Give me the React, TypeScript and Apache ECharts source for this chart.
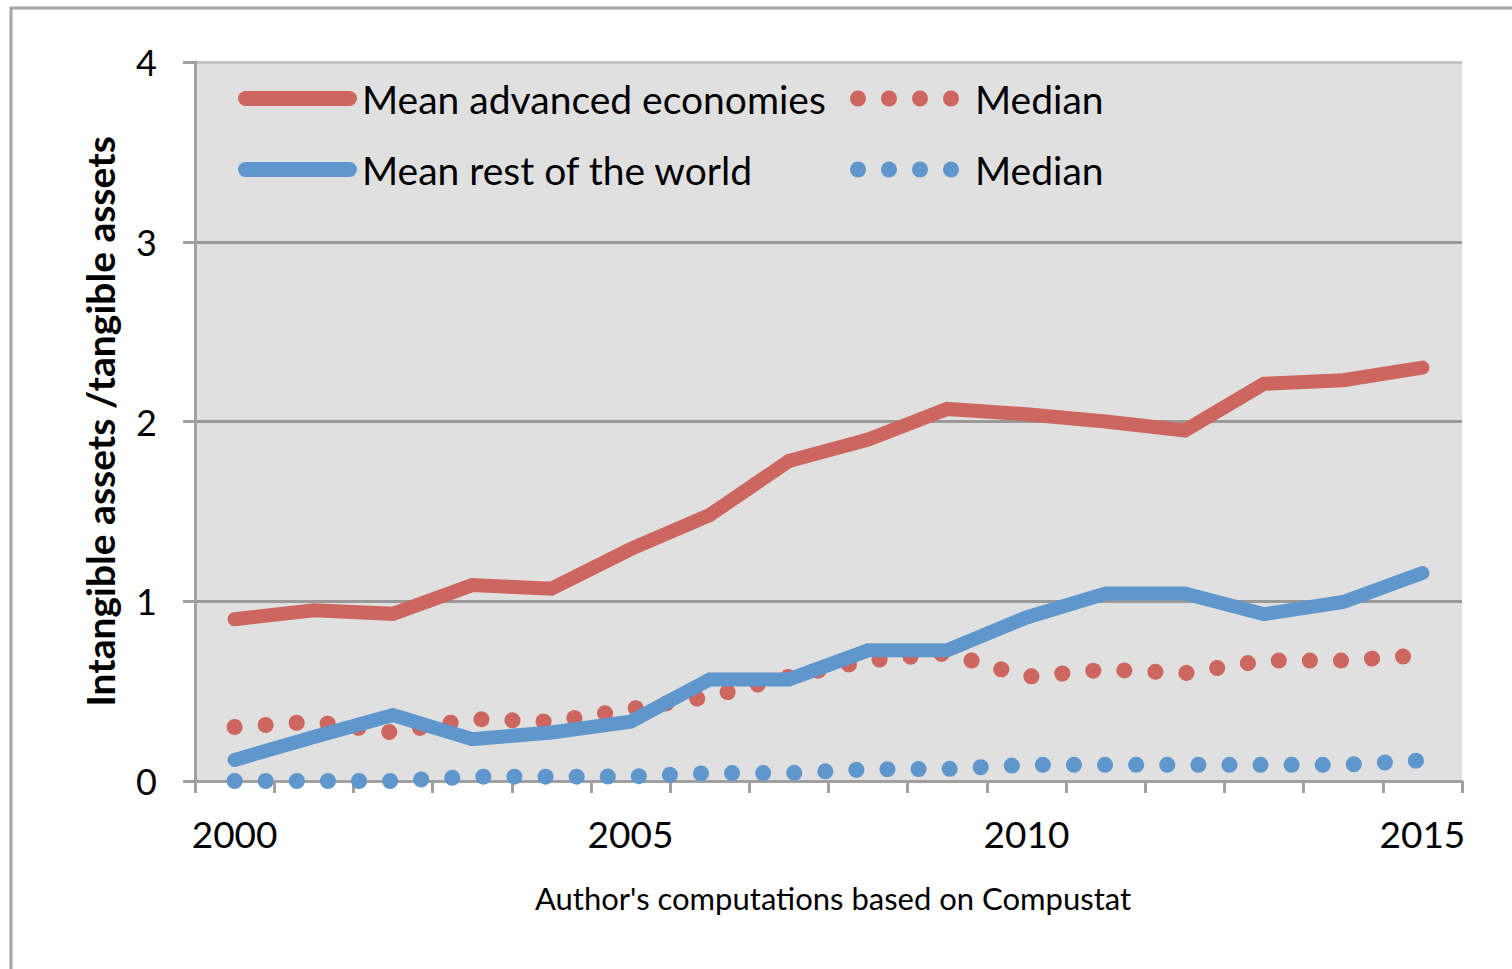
import React, { useEffect, useRef } from "react";
import * as echarts from "echarts";

const years = ["2000","2001","2002","2003","2004","2005","2006","2007","2008","2009","2010","2011","2012","2013","2014","2015"];
const meanAdvanced = [0.90,0.95,0.93,1.09,1.07,1.29,1.48,1.78,1.90,2.07,2.04,2.00,1.95,2.21,2.23,2.30];
const medianAdvanced = [0.30,0.33,0.27,0.345,0.33,0.40,0.47,0.58,0.67,0.71,0.58,0.62,0.60,0.67,0.67,0.70];
const meanRest = [0.117,0.245,0.367,0.233,0.27,0.33,0.565,0.565,0.727,0.727,0.91,1.043,1.043,0.928,0.996,1.157];
const medianRest = [0.0,0.0,0.0,0.024,0.024,0.025,0.044,0.044,0.065,0.067,0.09,0.09,0.09,0.09,0.09,0.115];
const yTicks = [0, 1, 2, 3, 4];

const RED = "#cd665f";
const BLUE = "#5f96cc";
const FONT = "Lato";

const capsule = "path://M7.5,0 L111.5,0 A7.5,7.5 0 0 1 111.5,15 L7.5,15 A7.5,7.5 0 0 1 7.5,0 Z";
const dots4 = "path://M0,8 A8,8 0 1 1 16,8 A8,8 0 1 1 0,8 Z M31,8 A8,8 0 1 1 47,8 A8,8 0 1 1 31,8 Z M62,8 A8,8 0 1 1 78,8 A8,8 0 1 1 62,8 Z M93,8 A8,8 0 1 1 109,8 A8,8 0 1 1 93,8 Z";

export default function App() {
  const ref = useRef<HTMLDivElement>(null);
  useEffect(() => {
    if (!ref.current) return;
    const chart = echarts.init(ref.current, undefined, { renderer: "svg" });
    const legendText = { fontFamily: FONT, fontSize: 39, color: "#000", lineHeight: 42, padding: [5, 0, 0, 0] };
    chart.setOption({
      animation: false,
      backgroundColor: "#ffffff",
      textStyle: { fontFamily: FONT },
      title: {
        text: "Author's computations based on Compustat",
        left: 828,
        textAlign: "center",
        top: 877,
        textStyle: { fontFamily: FONT, fontSize: 31, fontWeight: "normal", color: "#000" },
      },
      graphic: [
        {
          type: "rect",
          shape: { x: 11, y: 8, width: 1600, height: 1100 },
          style: { fill: "none", stroke: "#a6a6a6", lineWidth: 3 },
          silent: true,
        },
      ],
      legend: [
        {
          data: [
            { name: "Mean advanced economies", icon: capsule },
            { name: "Mean rest of the world", icon: capsule },
          ],
          orient: "vertical",
          left: 233,
          top: 70,
          itemWidth: 119,
          itemHeight: 15,
          itemGap: 24,
          textStyle: legendText,
          selectedMode: false,
        },
        {
          data: [
            { name: "Median (advanced)", icon: dots4 },
            { name: "Median (rest)", icon: dots4 },
          ],
          orient: "vertical",
          left: 845,
          top: 70,
          itemWidth: 109,
          itemHeight: 16,
          itemGap: 24,
          formatter: () => "Median",
          textStyle: { ...legendText, padding: [5, 0, 0, 11] },
          selectedMode: false,
        },
      ],
      grid: { left: 195, right: 50, top: 62, bottom: 188, show: true, backgroundColor: "#e0e0e0", borderWidth: 0 },
      xAxis: {
        type: "category",
        data: years,
        boundaryGap: true,
        axisLine: { show: true, lineStyle: { color: "#a0a0a0", width: 3 } },
        axisTick: { show: true, interval: 0, length: 12, lineStyle: { color: "#a0a0a0", width: 3 } },
        axisLabel: {
          interval: 4,
          fontFamily: FONT,
          fontSize: 37,
          color: "#000",
          margin: 34,
        },
        splitLine: { show: false },
      },
      yAxis: {
        type: "value",
        min: yTicks[0],
        max: yTicks[yTicks.length - 1],
        interval: 1,
        name: "Intangible assets /tangible assets",
        nameLocation: "middle",
        nameGap: 76,
        nameTextStyle: { fontFamily: FONT, fontSize: 39, fontWeight: "bold", color: "#000" },
        axisLine: { show: true, lineStyle: { color: "#a0a0a0", width: 3 } },
        axisTick: { show: true, length: 12, lineStyle: { color: "#a0a0a0", width: 3 } },
        axisLabel: { fontFamily: FONT, fontSize: 36, color: "#000", margin: 38 },
        splitLine: { show: true, lineStyle: { color: ["#999999", "#999999", "#999999", "#999999", "#c4c4c4"], width: 3 } },
      },
      series: [
        {
          name: "Median (advanced)",
          type: "line",
          data: medianAdvanced,
          showSymbol: false,
          symbol: "none",
          itemStyle: { color: RED },
          lineStyle: { color: RED, width: 16, type: [0.1, 31], cap: "round" },
        },
        {
          name: "Median (rest)",
          type: "line",
          data: medianRest,
          showSymbol: false,
          symbol: "none",
          itemStyle: { color: BLUE },
          lineStyle: { color: BLUE, width: 16, type: [0.1, 31], cap: "round" },
        },
        {
          name: "Mean advanced economies",
          type: "line",
          data: meanAdvanced,
          showSymbol: false,
          symbol: "none",
          itemStyle: { color: RED },
          lineStyle: { color: RED, width: 14, cap: "round", join: "miter" },
        },
        {
          name: "Mean rest of the world",
          type: "line",
          data: meanRest,
          showSymbol: false,
          symbol: "none",
          itemStyle: { color: BLUE },
          lineStyle: { color: BLUE, width: 14, cap: "round", join: "miter" },
        },
      ],
    });
    return () => chart.dispose();
  }, []);
  return <div ref={ref} style={{ position: "absolute", left: 0, top: 0, width: 1512, height: 969 }} />;
}
